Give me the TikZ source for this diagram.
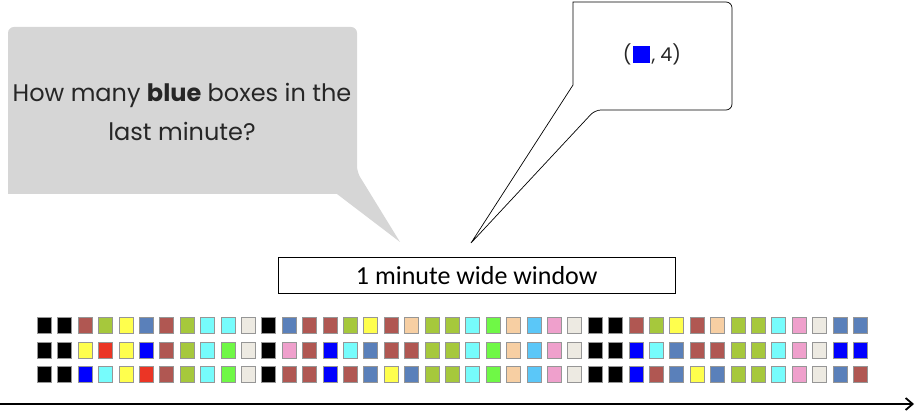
\documentclass[tikz,border=0pt]{standalone}
\usepackage{fontspec}
\setmainfont{Poppins}
\newfontfamily\winfont{Carlito}
\usetikzlibrary{arrows.meta,positioning}
\definecolor{bubblegray}{RGB}{214,214,214}
\definecolor{textdark}{RGB}{38,38,38}
\definecolor{boxedge}{RGB}{150,150,150}
\definecolor{bxk}{RGB}{0,0,0}
\definecolor{bxbr}{RGB}{176,87,82}
\definecolor{bxol}{RGB}{166,200,60}
\definecolor{bxye}{RGB}{255,255,77}
\definecolor{bxst}{RGB}{90,128,186}
\definecolor{bxcy}{RGB}{118,252,252}
\definecolor{bxow}{RGB}{237,234,226}
\definecolor{bxrd}{RGB}{235,53,37}
\definecolor{bxbl}{RGB}{0,0,255}
\definecolor{bxlg}{RGB}{111,248,70}
\definecolor{bxpe}{RGB}{247,207,163}
\definecolor{bxsk}{RGB}{91,199,248}
\definecolor{bxpk}{RGB}{239,160,204}

\begin{document}
\begin{tikzpicture}[x=1pt, y=-1pt, every node/.style={inner sep=0pt},
    colbox/.style={draw=boxedge, line width=0.8pt, minimum width=14pt, minimum height=16pt}]
  \useasboundingbox (0,0) rectangle (916,411);

  % question bubble
  \coordinate (qtip) at (400,242);
  \fill[bubblegray] (qtip) -- (337,194) -- (8,194) [rounded corners=6pt] -- (8,27) -- (357,27) -- (357,172) [sharp corners] -- cycle;
  \node[align=center, text=textdark, font=\fontsize{24}{39}\selectfont] (question) at (182,112) {How many \textbf{blue} boxes in the\\last minute?};

  % answer bubble
  \coordinate (atip) at (471,243);
  \draw[line width=0.7pt] (atip) -- (573,85) -- (573,2) [rounded corners=6pt] -- (732,2) -- (732,110) -- (595,110) [sharp corners] -- cycle;
  \node[text=textdark, font=\fontsize{19}{20}\selectfont] (answer) at (652,54) {(\kern1pt{\color{bxbl}\rule[-2pt]{17.5pt}{17.5pt}}\kern1.5pt, 4)};

  % window
  \node[draw, line width=0.8pt, minimum width=397pt, minimum height=36pt, font=\winfont\fontsize{26}{28}\selectfont] (window) at (476.7,275.3) {1 minute wide window};

  % stream of boxes
  \foreach \c [count=\i] in {k,k,br,ol,ye,st,br,ol,cy,cy,ow,k,st,br,br,ol,ye,br,pe,ol,ol,cy,lg,pe,sk,pk,ow,k,k,br,ol,ye,br,pe,ol,ol,cy,pk,ow,st,st}
    \node[colbox, fill=bx\c] (box-1-\i) at ({44.3+20.4*(\i-1)}, 325.3) {};
  \foreach \c [count=\i] in {k,k,ye,rd,ye,bl,br,ol,cy,lg,ow,k,pk,br,bl,cy,st,br,br,ol,ol,cy,lg,pe,sk,pk,ow,k,k,bl,cy,st,br,br,ol,ol,cy,pk,ow,bl,bl}
    \node[colbox, fill=bx\c] (box-2-\i) at ({44.3+20.4*(\i-1)}, 350) {};
  \foreach \c [count=\i] in {k,k,bl,cy,ye,rd,br,ol,cy,lg,ow,k,br,br,bl,br,st,ye,st,ol,ol,cy,lg,pe,sk,pk,ow,k,k,bl,br,st,ye,st,ol,ol,cy,pk,ow,st,br}
    \node[colbox, fill=bx\c] (box-3-\i) at ({44.3+20.4*(\i-1)}, 374.7) {};

  % time axis
  \coordinate (tstart) at (0,404);
  \coordinate (tend) at (914,404);
  \draw[line width=1.8pt, -{Straight Barb[length=7pt, width=12pt]}] (tstart) -- (tend);
\end{tikzpicture}
\end{document}
